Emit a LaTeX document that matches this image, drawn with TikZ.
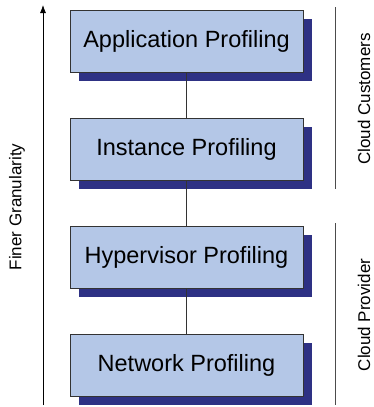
\documentclass[tikz,border=0pt]{standalone}
\usepackage{fontspec}
\setmainfont{Liberation Sans}
\usetikzlibrary{shadows}
\usetikzlibrary{arrows.meta}
\definecolor{boxfill}{HTML}{B4C7E7}
\definecolor{boxshade}{HTML}{2E3184}

\begin{document}
\begin{tikzpicture}[x=1pt,y=-1pt,
  layer/.style={draw=black!80,line width=0.8pt,fill=boxfill,minimum width=233pt,minimum height=62pt,
    inner sep=0pt,font=\fontsize{23.5}{28}\selectfont,
    drop shadow={shadow xshift=9pt,shadow yshift=-9pt,fill=boxshade,opacity=1}},
  side/.style={rotate=90,font=\fontsize{17}{21}\selectfont}]

\useasboundingbox (0,0) rectangle (374,407);

\node[layer] (app) at (186.5,41) {Application Profiling};
\node[layer] (inst) at (186.5,149) {Instance Profiling};
\node[layer] (hyp) at (186.5,257) {Hypervisor Profiling};
\node[layer] (net) at (186.5,365) {Network Profiling};

\draw[black!80,line width=0.8pt] (app) -- (inst);
\draw[black!80,line width=0.8pt] (inst) -- (hyp);
\draw[black!80,line width=0.8pt] (hyp) -- (net);

\coordinate (ab) at (43,405);
\coordinate (at) at (43,5);
\draw[-{Latex[length=8pt,width=6pt]},line width=0.8pt] (ab) -- (at);
\node[side] (fine) at (17,207) {Finer Granularity};

\coordinate (c1) at (335,7);
\coordinate (c2) at (335,189);
\coordinate (p1) at (335,223);
\coordinate (p2) at (335,405);
\draw[black!70,line width=0.8pt] (c1) -- (c2);
\draw[black!70,line width=0.8pt] (p1) -- (p2);
\node[side] (cust) at (364,99) {Cloud Customers};
\node[side] (prov) at (364,315) {Cloud Provider};

\end{tikzpicture}
\end{document}
